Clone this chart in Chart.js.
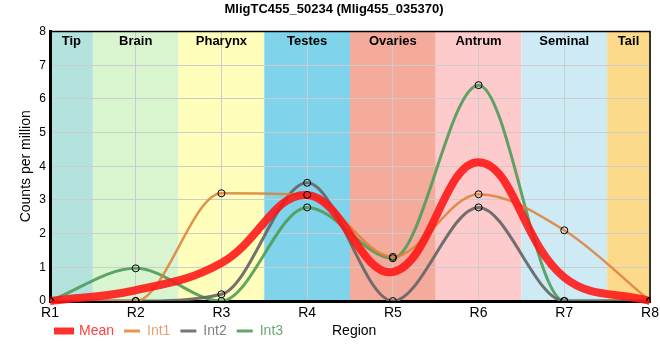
<!DOCTYPE html>
<html>
<head>
<meta charset="utf-8">
<script src="https://cdn.jsdelivr.net/npm/chart.js@4"></script>
<style>
  body { margin: 0; background: #fff; }
  #wrap { width: 660px; height: 360px; }
</style>
</head>
<body>
<div id="wrap"><canvas id="myChart"></canvas></div>
<script>
const regions = ['R1', 'R2', 'R3', 'R4', 'R5', 'R6', 'R7', 'R8'];
const mean = [0, 0.32, 1.13, 3.15, 0.86, 4.12, 0.7, 0];
const int1 = [0, 0, 3.2, 3.15, 1.31, 3.17, 2.1, 0];
const int2 = [0, 0, 0.2, 3.51, 0, 2.78, 0, 0];
const int3 = [0, 0.97, 0, 2.78, 1.27, 6.41, 0, 0];
const tissues = ['Tip', 'Brain', 'Pharynx', 'Testes', 'Ovaries', 'Antrum', 'Seminal', 'Tail'];
const tissueEdges = [1, 1.5, 2.5, 3.5, 4.5, 5.5, 6.5, 7.5, 8];
const tissueColors = ['#b4e3de', '#d9f5d0', '#ffffbb', '#7fd4eb', '#f4ab9b', '#fdcbcb', '#ceebf5', '#fdd98b'];

const pts = arr => arr.map((v, i) => ({ x: i + 1, y: v }));

const bands = {
  id: 'bands',
  afterLayout(chart) {
    chart.legend.left += 28;
    chart.legend.top -= 6;
    chart.legend.bottom -= 6;
  },
  beforeDraw(chart) {
    const { ctx, chartArea: a, scales: { x } } = chart;
    ctx.save();
    for (let i = 0; i < tissues.length; i++) {
      const x0 = x.getPixelForValue(tissueEdges[i]);
      const x1 = x.getPixelForValue(tissueEdges[i + 1]);
      ctx.fillStyle = tissueColors[i];
      ctx.fillRect(x0, a.top, x1 - x0, a.bottom - a.top);
    }
    ctx.restore();
  },
  beforeDatasetsDraw(chart) {
    const { ctx, chartArea: a, scales: { x } } = chart;
    ctx.save();
    ctx.font = 'bold 13px "Liberation Sans", Arial, sans-serif';
    ctx.fillStyle = '#000';
    ctx.textAlign = 'center';
    ctx.textBaseline = 'middle';
    for (let i = 0; i < tissues.length; i++) {
      const cx = (x.getPixelForValue(tissueEdges[i]) + x.getPixelForValue(tissueEdges[i + 1])) / 2;
      ctx.fillText(tissues[i], cx, a.top + 10);
    }
    ctx.restore();
  },
  afterDraw(chart) {
    const { ctx, chartArea: a } = chart;
    ctx.save();
    ctx.strokeStyle = '#000';
    ctx.lineWidth = 1.5;
    ctx.beginPath();
    ctx.moveTo(a.left, a.top);
    ctx.lineTo(a.right, a.top);
    ctx.lineTo(a.right, a.bottom);
    ctx.stroke();
    ctx.font = '14px "Liberation Sans", Arial, sans-serif';
    ctx.fillStyle = '#000';
    ctx.textBaseline = 'middle';
    ctx.fillText('Region', 332, 331);
    ctx.restore();
  }
};

const lineDs = (label, data, color, width, extra) => Object.assign({
  label, data: pts(data), borderColor: color, backgroundColor: color,
  borderWidth: width, pointRadius: 0, cubicInterpolationMode: 'monotone', fill: false
}, extra || {});

const dotDs = (data, order) => ({
  label: '', data: pts(data), showLine: false, pointRadius: 3.5, pointBorderWidth: 1,
  pointBorderColor: '#000', pointBackgroundColor: 'rgba(0,0,0,0)', order: order
});

const ctx = document.getElementById('myChart');

new Chart(ctx, {
  type: 'line',
  data: {
    datasets: [
      lineDs('Mean', mean, 'rgba(255,20,20,0.88)', 8, { tension: 0.4, cubicInterpolationMode: 'default', clip: false, order: 1 }),
      lineDs('Int1', int1, 'rgba(221,128,55,0.85)', 2.5, { order: 2 }),
      lineDs('Int2', int2, 'rgba(100,100,100,0.9)', 3, { order: 2 }),
      lineDs('Int3', int3, 'rgba(80,155,90,0.9)', 3, { order: 2 }),
      dotDs(int1, 0),
      dotDs(int2, 0),
      dotDs(int3, 0)
    ]
  },
  options: {
    responsive: true,
    maintainAspectRatio: false,
    animation: false,
    layout: { padding: { left: 18, right: 10, top: 0, bottom: 6 } },
    plugins: {
      title: {
        display: true,
        text: 'MligTC455_50234 (Mlig455_035370)',
        color: '#000',
        font: { family: '"Liberation Sans", Arial, sans-serif', size: 13, weight: 'bold' },
        padding: { top: 2, bottom: 14 }
      },
      legend: {
        position: 'bottom',
        align: 'start',
        labels: {
          boxWidth: 16,
          boxHeight: 3,
          padding: 10,
          font: { family: '"Liberation Sans", Arial, sans-serif', size: 14 },
          filter: item => item.text !== '',
          generateLabels(chart) {
            const cols = ['#ff3030', '#e8955a', '#777777', '#62a86c'];
            const txt = ['#ff4040', '#e8a070', '#808080', '#6aaa74'];
            return chart.data.datasets.slice(0, 4).map((d, i) => ({
              text: d.label,
              fillStyle: cols[i],
              strokeStyle: cols[i],
              lineWidth: i === 0 ? 4 : 0,
              fontColor: txt[i],
              datasetIndex: i
            }));
          }
        }
      },
      tooltip: { enabled: false }
    },
    scales: {
      x: {
        type: 'linear',
        min: 1,
        max: 8,
        afterFit: s => { s.height = 19; s.paddingLeft = 0; s.paddingRight = 0; },
        ticks: {
          stepSize: 1,
          color: '#000',
          padding: 4,
          font: { family: '"Liberation Sans", Arial, sans-serif', size: 14 },
          callback: v => regions[v - 1]
        },
        grid: { color: '#cccccc', drawTicks: false },
        border: { color: '#000', width: 3 }
      },
      y: {
        min: 0,
        max: 8,
        afterFit: s => { s.width = 32; },
        ticks: {
          stepSize: 1,
          color: '#000',
          padding: 4,
          font: { family: '"Liberation Sans", Arial, sans-serif', size: 12 }
        },
        grid: { color: '#cccccc', drawTicks: false },
        border: { color: '#000', width: 3 },
        title: {
          display: true,
          text: 'Counts per million',
          color: '#000',
          padding: 0,
          font: { family: '"Liberation Sans", Arial, sans-serif', size: 14 }
        }
      }
    }
  },
  plugins: [bands]
});
</script>
</body>
</html>
